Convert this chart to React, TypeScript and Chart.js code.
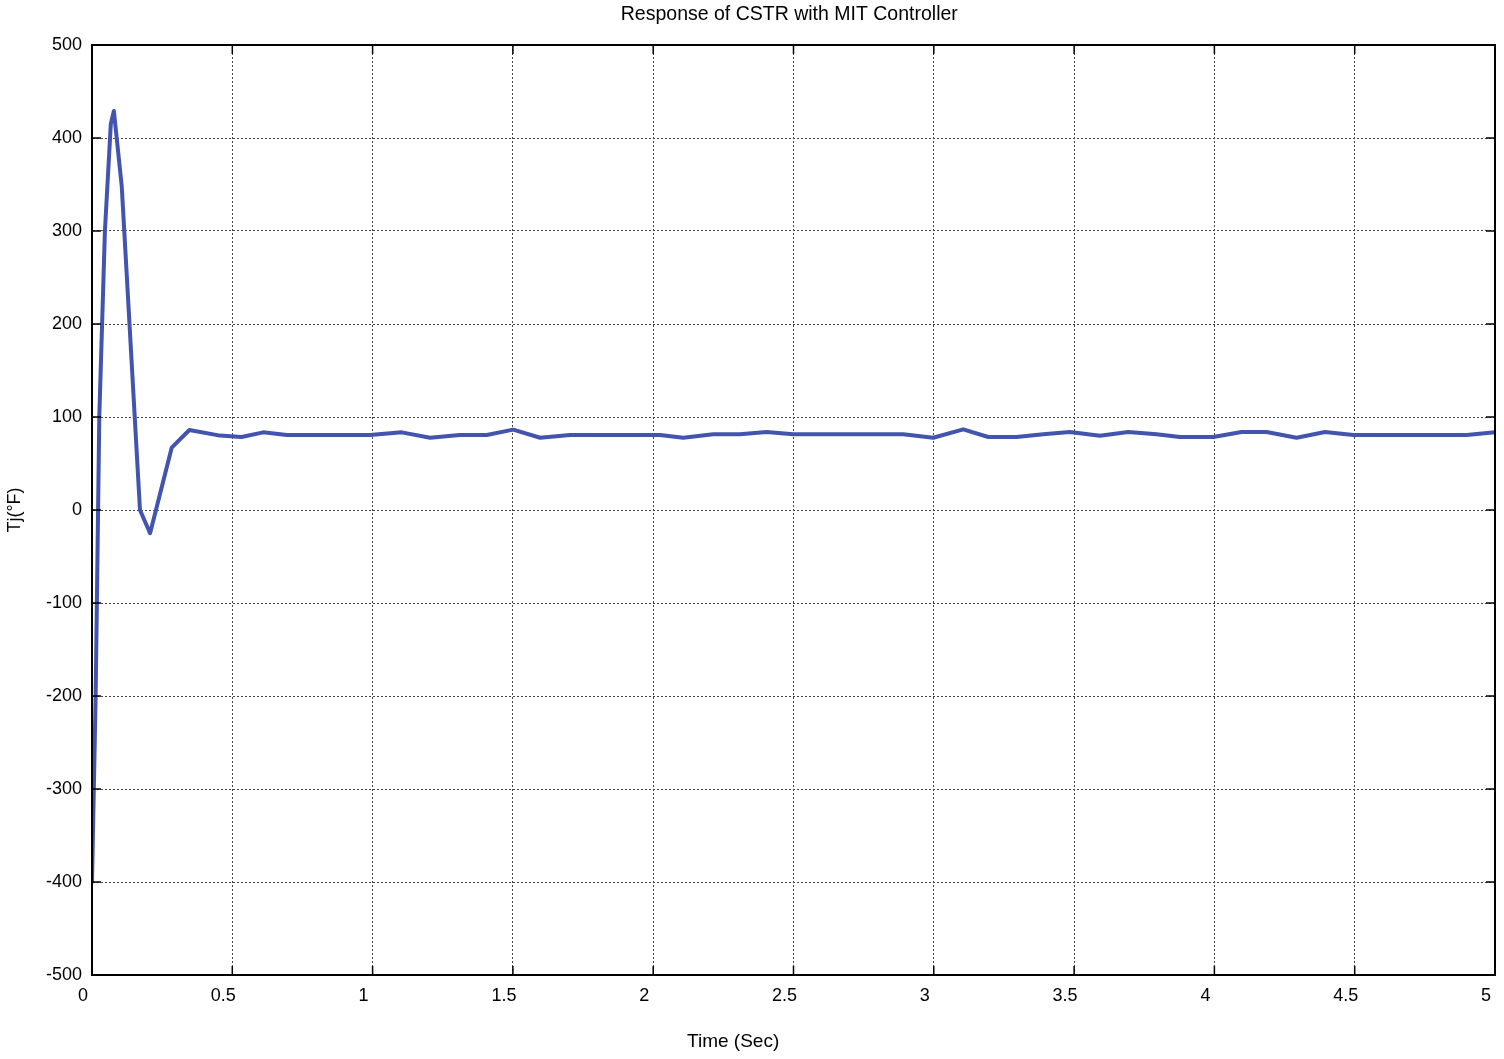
import React, { useEffect, useRef } from "react";
import { Chart, registerables } from "chart.js";

Chart.register(...registerables);

const chartTitle = "Response of CSTR with MIT Controller";
const xAxisTitle = "Time (Sec)";
const yAxisTitle = "Tj(°F)";

const xTickLabels = ["0", "0.5", "1", "1.5", "2", "2.5", "3", "3.5", "4", "4.5", "5"];
const yTickLabels = ["-500", "-400", "-300", "-200", "-100", "0", "100", "200", "300", "400", "500"];

const timeSec = [
  0, 0.013, 0.026, 0.046, 0.067, 0.078, 0.106, 0.171, 0.207, 0.284, 0.347, 0.456, 0.533, 0.61,
  0.694, 0.991, 1.104, 1.205, 1.311, 1.407, 1.501, 1.597, 1.704, 2.024, 2.107, 2.214, 2.309,
  2.404, 2.499, 2.891, 2.998, 3.105, 3.194, 3.295, 3.39, 3.485, 3.592, 3.693, 3.794, 3.877,
  3.996, 4.097, 4.186, 4.293, 4.394, 4.495, 4.899, 5.0,
];
const tjValues = [
  -400, -200, 100, 300, 415, 429, 348, 0, -25, 67, 86, 80, 78.5, 83.5,
  80.6, 80.6, 83.5, 77.7, 80.6, 80.6, 86.4, 77.7, 80.6, 80.6, 77.7, 81.4, 81.4,
  83.9, 81.4, 81.4, 77.7, 86.7, 78.5, 78.5, 81.4, 83.9, 79.9, 83.9, 81.4, 78.5,
  78.5, 83.9, 83.9, 77.7, 83.9, 80.6, 80.6, 83.5,
];

const FONT = "'Liberation Sans', Arial, sans-serif";

const framePlugin = {
  id: "matlabFrame",
  afterDraw(chart: any) {
    const { ctx, chartArea, scales } = chart;
    const { left, right, top, bottom } = chartArea;
    const x = scales.x;
    const y = scales.y;
    ctx.save();
    ctx.strokeStyle = "#000";
    ctx.lineWidth = 1.5;
    const len = 9;
    const seg = (x1: number, y1: number, x2: number, y2: number) => {
      ctx.beginPath();
      ctx.moveTo(x1, y1);
      ctx.lineTo(x2, y2);
      ctx.stroke();
    };
    x.ticks.forEach((t: any) => {
      const px = x.getPixelForValue(t.value);
      seg(px, bottom, px, bottom - len);
      seg(px, top, px, top + len);
    });
    y.ticks.forEach((t: any) => {
      const py = y.getPixelForValue(t.value);
      seg(left, py, left + len, py);
      seg(right, py, right - len, py);
    });
    ctx.lineWidth = 2;
    ctx.strokeRect(left, top, right - left, bottom - top);
    // x axis title
    ctx.fillStyle = "#000";
    ctx.font = `19px ${FONT}`;
    ctx.textAlign = "center";
    ctx.textBaseline = "middle";
    ctx.fillText(xAxisTitle, left + (right - left) * 0.457, 1042);
    // chart title, centred over the plot area
    ctx.font = `19.5px ${FONT}`;
    ctx.fillText(chartTitle, left + (right - left) * 0.497, 15);
    ctx.restore();
  },
};

export default function App() {
  const ref = useRef<HTMLCanvasElement | null>(null);

  useEffect(() => {
    if (!ref.current) return;
    const points = timeSec.map((t, i) => ({ x: t, y: tjValues[i] }));
    const chart = new Chart(ref.current, {
      type: "line",
      data: {
        datasets: [
          {
            data: points,
            borderColor: "#4254ae",
            borderWidth: 4,
            pointRadius: 0,
            tension: 0,
            fill: false,
            borderJoinStyle: "round",
            borderCapStyle: "round",
          },
        ],
      },
      plugins: [framePlugin],
      options: {
        animation: false,
        responsive: false,
        layout: { padding: { left: 0, right: 9, top: 45, bottom: 0 } },
        plugins: {
          legend: { display: false },
          tooltip: { enabled: false },
          title: { display: false },
        },
        scales: {
          x: {
            type: "linear",
            min: 0,
            max: 5,
            afterFit: (s: any) => {
              s.height = 84;
              s.paddingLeft = 0;
              s.paddingRight = 0;
            },
            afterBuildTicks: (s: any) => {
              s.ticks = xTickLabels.map((l) => ({ value: parseFloat(l) }));
            },
            ticks: {
              color: "#000",
              font: { family: FONT, size: 18 },
              padding: 10,
              maxRotation: 0,
              autoSkip: false,
              labelOffset: -9,
              callback: (_v: any, i: number) => xTickLabels[i],
            },
            grid: {
              color: "#444",
              lineWidth: 1,
              drawTicks: false,
            },
            border: { display: true, color: "#000", width: 2, dash: [2, 2] },
          },
          y: {
            type: "linear",
            min: -500,
            max: 500,
            afterFit: (s: any) => {
              s.width = 92;
              s.paddingTop = 0;
              s.paddingBottom = 0;
            },
            afterBuildTicks: (s: any) => {
              s.ticks = yTickLabels.map((l) => ({ value: parseFloat(l) }));
            },
            ticks: {
              color: "#000",
              font: { family: FONT, size: 18 },
              padding: 10,
              autoSkip: false,
              callback: (_v: any, i: number) => yTickLabels[i],
            },
            title: {
              display: true,
              text: yAxisTitle,
              color: "#000",
              font: { family: FONT, size: 18 },
              padding: { top: 4, bottom: 0 },
            },
            grid: {
              color: "#444",
              lineWidth: 1,
              drawTicks: false,
            },
            border: { display: true, color: "#000", width: 2, dash: [2, 2] },
          },
        },
      },
    });
    return () => chart.destroy();
  }, []);

  return (
    <div style={{ position: "absolute", left: 0, top: 0, width: 1504, height: 1059, background: "#fff" }}>
      <canvas ref={ref} width={1504} height={1059} style={{ width: 1504, height: 1059 }} />
    </div>
  );
}
